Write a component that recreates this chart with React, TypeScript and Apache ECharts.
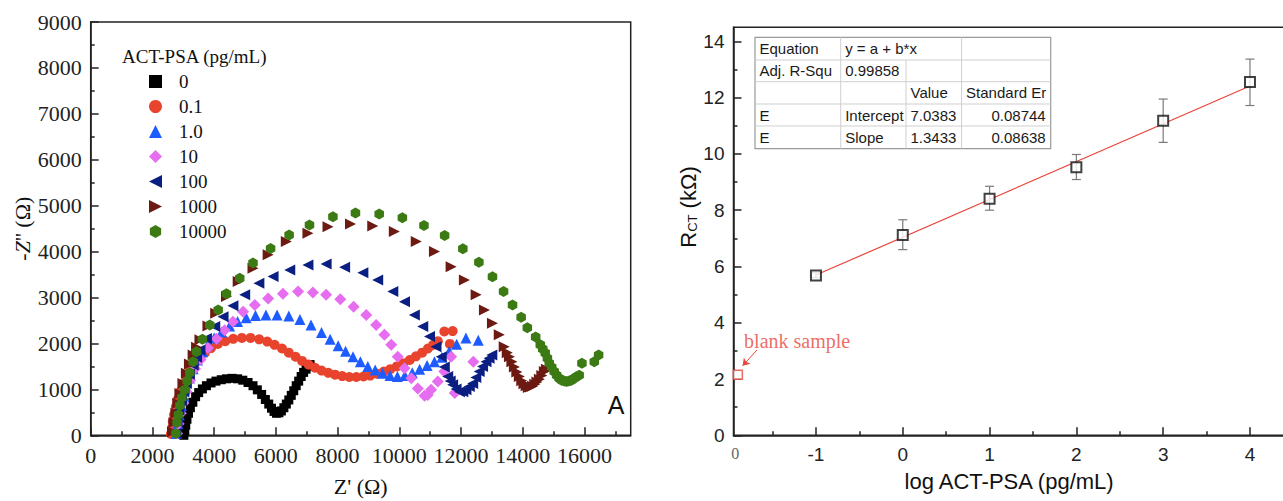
import React, { useEffect, useRef } from 'react';
import * as echarts from 'echarts';

// ---------- Left panel: Nyquist plots ----------
const SERIES_NAMES = ['0', '0.1', '1.0', '10', '100', '1000', '10000'];

const S_0: number[][] = [[3020,0],[3050,100],[3080,220],[3120,350],[3170,480],[3230,600],[3310,720],[3400,840],[3500,930],[3620,1010],[3750,1080],[3900,1140],[4060,1180],[4230,1210],[4400,1230],[4580,1240],[4760,1230],[4930,1200],[5100,1150],[5260,1080],[5400,990],[5540,890],[5660,780],[5770,680],[5860,590],[5940,520],[6020,480],[6100,490],[6180,530],[6260,600],[6340,680],[6420,770],[6500,870],[6580,970],[6660,1080],[6740,1180],[6820,1280],[6900,1370],[6980,1440],[7060,1500],[7110,1540]];
const S_01: number[][] = [[2600,30],[2630,150],[2660,300],[2700,450],[2760,620],[2830,790],[2910,960],[3000,1120],[3100,1270],[3220,1420],[3360,1560],[3520,1680],[3700,1800],[3900,1900],[4120,1990],[4360,2050],[4620,2100],[4900,2120],[5180,2120],[5460,2090],[5720,2040],[5960,1970],[6200,1890],[6420,1800],[6640,1710],[6850,1620],[7060,1540],[7270,1470],[7480,1410],[7700,1360],[7920,1320],[8150,1290],[8380,1270],[8610,1270],[8840,1280],[9060,1300],[9280,1340],[9500,1390],[9710,1440],[9920,1500],[10130,1570],[10340,1640],[10540,1720],[10740,1800],[10930,1890],[11100,1970],[11250,2050],[11460,2260],[11640,1990],[11730,2270]];
const S_1: number[][] = [[2780,40],[2820,250],[2870,450],[2940,650],[3020,850],[3100,1050],[3200,1250],[3320,1450],[3460,1640],[3620,1820],[3800,1980],[4000,2120],[4240,2250],[4500,2380],[4760,2480],[5040,2560],[5340,2610],[5680,2620],[6040,2620],[6420,2600],[6780,2520],[7140,2400],[7480,2240],[7760,2090],[8020,1950],[8260,1830],[8500,1710],[8740,1600],[8980,1500],[9220,1420],[9460,1350],[9700,1300],[9940,1280],[10180,1300],[10420,1360],[10660,1440],[10900,1520],[11140,1600],[11380,1700],[11620,1830],[11860,1980],[12160,2120],[12560,2070]];
const S_10: number[][] = [[2800,40],[2850,250],[2920,480],[3000,700],[3100,950],[3220,1200],[3380,1450],[3560,1650],[3800,1900],[4080,2100],[4340,2290],[4610,2470],[4940,2690],[5320,2840],[5750,2980],[6230,3080],[6720,3130],[7200,3110],[7630,3060],[8090,2960],[8520,2800],[8930,2620],[9250,2400],[9520,2190],[9740,1970],[9950,1710],[10170,1460],[10390,1240],[10600,1020],[10820,860],[10920,880],[11030,990],[11250,1170],[11460,1390],[11680,1710],[11800,920],[12400,1600]];
const S_100: number[][] = [[2760,40],[2800,300],[2860,550],[2940,750],[3020,950],[3100,1130],[3200,1330],[3320,1530],[3430,1700],[3540,1860],[3750,2110],[4020,2370],[4290,2580],[4610,2820],[4990,3060],[5450,3310],[5910,3460],[6450,3600],[7040,3710],[7630,3730],[8230,3660],[8820,3540],[9300,3380],[9790,3130],[10170,2910],[10490,2620],[10760,2370],[10980,2150],[11190,1930],[11360,1710],[11460,1490],[11570,1280],[11650,1180],[11730,1100],[11840,1010],[11950,950],[12060,950],[12160,990],[12270,1060],[12380,1130],[12480,1260],[12590,1390],[12700,1500],[12810,1600],[12910,1680],[13000,1750]];
const S_1000: number[][] = [[2650,80],[2700,280],[2760,480],[2820,700],[2890,910],[2990,1130],[3100,1350],[3200,1550],[3320,1750],[3430,1920],[3540,2080],[3800,2380],[4050,2660],[4400,3020],[4780,3350],[5260,3640],[5750,3930],[6340,4220],[7040,4400],[7690,4540],[8420,4600],[9140,4560],[9840,4440],[10550,4220],[11140,4000],[11680,3670],[12110,3380],[12490,3060],[12760,2730],[13020,2440],[13240,2190],[13400,1930],[13500,1800],[13570,1710],[13650,1600],[13730,1490],[13810,1380],[13890,1280],[13970,1190],[14040,1120],[14110,1080],[14180,1040],[14250,1050],[14320,1070],[14390,1110],[14460,1160],[14540,1220],[14620,1300],[14700,1390],[14770,1440]];
const S_10000: number[][] = [[2760,40],[2800,280],[2840,450],[2890,650],[2950,820],[3050,990],[3130,1180],[3210,1360],[3320,1600],[3430,1820],[3620,2090],[3860,2400],[4130,2730],[4400,3080],[4830,3420],[5260,3750],[5830,4070],[6430,4360],[7090,4580],[7850,4760],[8580,4840],[9350,4820],[10100,4740],[10800,4570],[11470,4350],[12060,4060],[12580,3770],[13020,3450],[13380,3130],[13670,2840],[13950,2570],[14150,2340],[14420,2140],[14570,1970],[14650,1880],[14730,1790],[14800,1680],[14860,1570],[14940,1480],[15020,1390],[15100,1310],[15180,1240],[15260,1200],[15340,1180],[15420,1170],[15500,1180],[15580,1200],[15650,1230],[15730,1270],[15830,1310],[15920,1570],[16320,1600],[16460,1750]];

const NYQUIST = [S_0, S_01, S_1, S_10, S_100, S_1000, S_10000];
const COLORS = ['#000000', '#e8432d', '#1f5cff', '#e66cf0', '#0b1f82', '#6c1a12', '#3c7a14'];
const SYMBOLS = [
  'rect',
  'circle',
  'triangle',
  'diamond',
  'path://M0,5L10,0L10,10Z',
  'path://M0,0L10,5L0,10Z',
  'path://M5,0L9.33,2.5L9.33,7.5L5,10L0.67,7.5L0.67,2.5Z',
];
const SYMBOL_SIZES = [9, 10, 11, 12, 11, 11, 11];

const LEFT_X_MAJOR = [0, 2000, 4000, 6000, 8000, 10000, 12000, 14000, 16000];
const LEFT_X_MINOR = [1000, 3000, 5000, 7000, 9000, 11000, 13000, 15000, 17000];

// ---------- Right panel: calibration ----------
const LOG_CONC = [-1, 0, 1, 2, 3, 4];
const RCT = [5.68, 7.12, 8.41, 9.53, 11.18, 12.56];
const RCT_LOW = [5.6, 6.6, 8.0, 9.09, 10.41, 11.72];
const RCT_HIGH = [5.78, 7.66, 8.85, 9.98, 11.95, 13.37];
const BLANK_X = -1.9;
const BLANK_Y = 2.15;
const BLANK_TICK_LABEL = '0';
const INTERCEPT = 7.0383;
const SLOPE = 1.3433;
const RIGHT_X_MAJOR = [-1, 0, 1, 2, 3, 4];
const RIGHT_X_MINOR = [-1.5, -0.5, 0.5, 1.5, 2.5, 3.5];
const RIGHT_Y_MAJOR = [0, 2, 4, 6, 8, 10, 12, 14];
const RIGHT_Y_MINOR = [1, 3, 5, 7, 9, 11, 13];

const TABLE_ROWS: string[][] = [
  ['Equation', 'y = a + b*x', '', ''],
  ['Adj. R-Squ', '0.99858', '', ''],
  ['', '', 'Value', 'Standard Er'],
  ['E', 'Intercept', '7.0383', '0.08744'],
  ['E', 'Slope', '1.3433', '0.08638'],
];

const SERIF = 'Liberation Serif, Times New Roman, serif';
const SANS = 'Liberation Sans, Arial, sans-serif';
const RED = '#e8453c';
const plain = (v: number) => String(v);

function buildTable(): any[] {
  const cols = [755, 840.7, 906, 961.6, 1050.7];
  const rows = [37.3, 60, 81.7, 104, 126, 148.7];
  const els: any[] = [];
  els.push({ type: 'rect', shape: { x: cols[0], y: rows[0], width: cols[4] - cols[0], height: rows[5] - rows[0] }, style: { fill: '#fff', stroke: '#9a9a9a', lineWidth: 1.2 }, z: 10 });
  for (let r = 1; r < rows.length - 1; r++) {
    els.push({ type: 'line', shape: { x1: cols[0], y1: rows[r], x2: cols[4], y2: rows[r] }, style: { stroke: '#cfcfcf', lineWidth: 1 }, z: 11 });
  }
  els.push({ type: 'line', shape: { x1: cols[1], y1: rows[0], x2: cols[1], y2: rows[5] }, style: { stroke: '#cfcfcf', lineWidth: 1 }, z: 11 });
  els.push({ type: 'line', shape: { x1: cols[2], y1: rows[1], x2: cols[2], y2: rows[5] }, style: { stroke: '#cfcfcf', lineWidth: 1 }, z: 11 });
  els.push({ type: 'line', shape: { x1: cols[3], y1: rows[0], x2: cols[3], y2: rows[5] }, style: { stroke: '#cfcfcf', lineWidth: 1 }, z: 11 });
  TABLE_ROWS.forEach((row, r) => {
    const cy = (rows[r] + rows[r + 1]) / 2;
    row.forEach((txt, c) => {
      if (!txt) return;
      const rightAlign = c === 3 && r >= 3;
      els.push({
        type: 'text',
        x: rightAlign ? cols[4] - 5 : cols[c] + 4.5,
        y: cy,
        z: 12,
        style: { text: txt, fontFamily: SANS, fontSize: 15, fill: '#1a1a1a', align: rightAlign ? 'right' : 'left', verticalAlign: 'middle' },
      });
    });
  });
  return els;
}

export default function App() {
  const ref = useRef<HTMLDivElement>(null);
  useEffect(() => {
    document.body.style.margin = '0';
    const chart = echarts.init(ref.current!, null, { renderer: 'svg' });
    const axisLine = { show: true, onZero: false, lineStyle: { color: '#222', width: 1.5 } };
    const noLine = { show: false, onZero: false };
    const tickStyle = { color: '#222', width: 1.5 };

    const leftSeries = NYQUIST.map((d, i) => ({
      name: SERIES_NAMES[i],
      type: 'scatter',
      xAxisIndex: 0,
      yAxisIndex: 0,
      data: d,
      symbol: SYMBOLS[i],
      symbolSize: SYMBOL_SIZES[i],
      symbolKeepAspect: true,
      itemStyle: { color: COLORS[i], opacity: 1 },
      z: 3 + i,
    }));

    const option: any = {
      animation: false,
      backgroundColor: '#fff',
      title: {
        text: 'ACT-PSA (pg/mL)',
        left: 117,
        top: 42,
        textStyle: { fontFamily: SERIF, fontSize: 19, fontWeight: 'normal', color: '#111' },
      },
      legend: {
        data: SERIES_NAMES,
        orient: 'vertical',
        left: 149,
        top: 72,
        padding: 0,
        itemWidth: 13,
        itemHeight: 13,
        itemGap: 6,
        selectedMode: false,
        textStyle: { fontFamily: SERIF, fontSize: 19, color: '#111', padding: [0, 0, 0, 12] },
      },
      grid: [
        { left: 90.7, top: 22, width: 540, height: 413.3, show: true, borderColor: '#222', borderWidth: 1.5, outerBoundsMode: 'none' },
        { left: 733.5, top: 27.3, width: 551.2, height: 408, show: true, borderColor: '#222', borderWidth: 1.5, outerBoundsMode: 'none' },
      ],
      xAxis: [
        {
          gridIndex: 0, type: 'value', position: 'bottom', min: 0, max: 17500,
          name: "Z' (Ω)", nameLocation: 'middle', nameGap: 40,
          nameTextStyle: { fontFamily: SERIF, fontSize: 22, color: '#111' },
          axisLine,
          axisTick: { show: true, inside: true, length: 8, customValues: LEFT_X_MAJOR, lineStyle: tickStyle },
          axisLabel: { customValues: LEFT_X_MAJOR, formatter: plain, margin: 9, fontFamily: SERIF, fontSize: 22, color: '#222' },
          splitLine: { show: false },
        },
        {
          gridIndex: 0, type: 'value', position: 'bottom', min: 0, max: 17500,
          axisLine: noLine,
          axisTick: { show: true, inside: true, length: 4, customValues: LEFT_X_MINOR, lineStyle: tickStyle },
          axisLabel: { show: false },
          splitLine: { show: false },
        },
        {
          gridIndex: 1, type: 'value', position: 'bottom', min: -1.95, max: 4.4,
          name: 'log ACT-PSA (pg/mL)', nameLocation: 'middle', nameGap: 35,
          nameTextStyle: { fontFamily: SANS, fontSize: 22, color: '#111' },
          axisLine,
          axisTick: { show: true, inside: true, length: 8, customValues: RIGHT_X_MAJOR, lineStyle: tickStyle },
          axisLabel: { customValues: RIGHT_X_MAJOR, formatter: plain, margin: 10, fontFamily: SANS, fontSize: 19, color: '#222' },
          splitLine: { show: false },
        },
        {
          gridIndex: 1, type: 'value', position: 'bottom', min: -1.95, max: 4.4,
          axisLine: noLine,
          axisTick: { show: true, inside: true, length: 4, customValues: RIGHT_X_MINOR, lineStyle: tickStyle },
          axisLabel: { show: false },
          splitLine: { show: false },
        },
        {
          gridIndex: 1, type: 'value', position: 'bottom', min: -1.95, max: 4.4,
          axisLine: noLine,
          axisTick: { show: false },
          axisLabel: { customValues: [-1.93], formatter: () => BLANK_TICK_LABEL, margin: 10, fontFamily: SERIF, fontSize: 16, color: '#666' },
          splitLine: { show: false },
        },
      ],
      yAxis: [
        {
          gridIndex: 0, type: 'value', position: 'left', min: 0, max: 9000, interval: 1000,
          name: "-{i|Z}'' (Ω)", nameLocation: 'middle', nameGap: 54,
          nameTextStyle: {
            fontFamily: SERIF, fontSize: 22, color: '#111',
            rich: { i: { fontFamily: SERIF, fontSize: 22, fontStyle: 'italic', color: '#111' } },
          },
          axisLine,
          axisTick: { show: true, inside: true, length: 8, lineStyle: tickStyle },
          minorTick: { show: true, splitNumber: 2, length: 4, lineStyle: tickStyle },
          axisLabel: { formatter: plain, margin: 9, fontFamily: SERIF, fontSize: 22, color: '#222' },
          splitLine: { show: false },
        },
        {
          gridIndex: 1, type: 'value', position: 'left', min: 0, max: 14.5,
          axisLine,
          axisTick: { show: true, inside: true, length: 8, customValues: RIGHT_Y_MAJOR, lineStyle: tickStyle },
          axisLabel: { customValues: RIGHT_Y_MAJOR, formatter: plain, margin: 9, fontFamily: SANS, fontSize: 19, color: '#222' },
          splitLine: { show: false },
        },
        {
          gridIndex: 1, type: 'value', position: 'left', min: 0, max: 14.5,
          axisLine: noLine,
          axisTick: { show: true, inside: true, length: 4, customValues: RIGHT_Y_MINOR, lineStyle: tickStyle },
          axisLabel: { show: false },
          splitLine: { show: false },
        },
      ],
      series: [
        ...leftSeries,
        {
          type: 'line',
          xAxisIndex: 2,
          yAxisIndex: 1,
          data: [[LOG_CONC[0], INTERCEPT + SLOPE * LOG_CONC[0]], [LOG_CONC[LOG_CONC.length - 1], INTERCEPT + SLOPE * LOG_CONC[LOG_CONC.length - 1]]],
          showSymbol: false,
          lineStyle: { color: RED, width: 1.2 },
          z: 2,
        },
        {
          type: 'custom',
          xAxisIndex: 2,
          yAxisIndex: 1,
          data: LOG_CONC.map((x, i) => [x, RCT_LOW[i], RCT_HIGH[i]]),
          encode: { x: 0, y: [1, 2] },
          renderItem: (params: any, api: any) => {
            const x = api.value(0);
            const lo = api.coord([x, api.value(1)]);
            const hi = api.coord([x, api.value(2)]);
            const w = 4.5;
            const st = { stroke: '#7a7a7a', lineWidth: 1.2 };
            return {
              type: 'group',
              children: [
                { type: 'line', shape: { x1: lo[0], y1: lo[1], x2: hi[0], y2: hi[1] }, style: st },
                { type: 'line', shape: { x1: lo[0] - w, y1: lo[1], x2: lo[0] + w, y2: lo[1] }, style: st },
                { type: 'line', shape: { x1: hi[0] - w, y1: hi[1], x2: hi[0] + w, y2: hi[1] }, style: st },
              ],
            };
          },
          z: 3,
        },
        {
          type: 'scatter',
          xAxisIndex: 2,
          yAxisIndex: 1,
          data: LOG_CONC.map((x, i) => [x, RCT[i]]),
          symbol: 'rect',
          symbolSize: 10,
          itemStyle: { color: '#fff', borderColor: '#111', borderWidth: 2 },
          z: 4,
        },
        {
          type: 'scatter',
          xAxisIndex: 2,
          yAxisIndex: 1,
          data: [[BLANK_X, BLANK_Y]],
          symbol: 'rect',
          symbolSize: 9,
          itemStyle: { color: '#fff', borderColor: RED, borderWidth: 1.5 },
          label: {
            show: true,
            formatter: 'blank sample',
            position: 'right',
            distance: 0,
            offset: [1, -34],
            fontFamily: SERIF,
            fontSize: 20,
            color: RED,
          },
          markLine: {
            silent: true,
            symbol: ['none', 'arrow'],
            symbolSize: 7,
            lineStyle: { color: RED, width: 1, type: 'solid' },
            label: { show: false },
            data: [[{ coord: [-1.68, 3.03] }, { coord: [-1.845, 2.47] }]],
          },
          z: 4,
        },
      ],
      graphic: [
        {
          type: 'text',
          x: 616,
          y: 405,
          style: { text: 'A', fontFamily: SANS, fontSize: 25, fill: '#111', align: 'center', verticalAlign: 'middle' },
        },
        {
          type: 'text',
          x: 688,
          y: 207,
          rotation: Math.PI / 2,
          style: {
            text: '{a|R}{b|CT}{a| (kΩ)}',
            align: 'center',
            verticalAlign: 'middle',
            rich: {
              a: { fontFamily: SANS, fontSize: 22, lineHeight: 22, verticalAlign: 'top', fill: '#111' },
              b: { fontFamily: SANS, fontSize: 13, lineHeight: 13, verticalAlign: 'bottom', fill: '#111' },
            },
          },
        },
        ...buildTable(),
      ],
    };
    chart.setOption(option);
    return () => chart.dispose();
  }, []);
  return <div ref={ref} style={{ width: 1283, height: 501 }} />;
}
